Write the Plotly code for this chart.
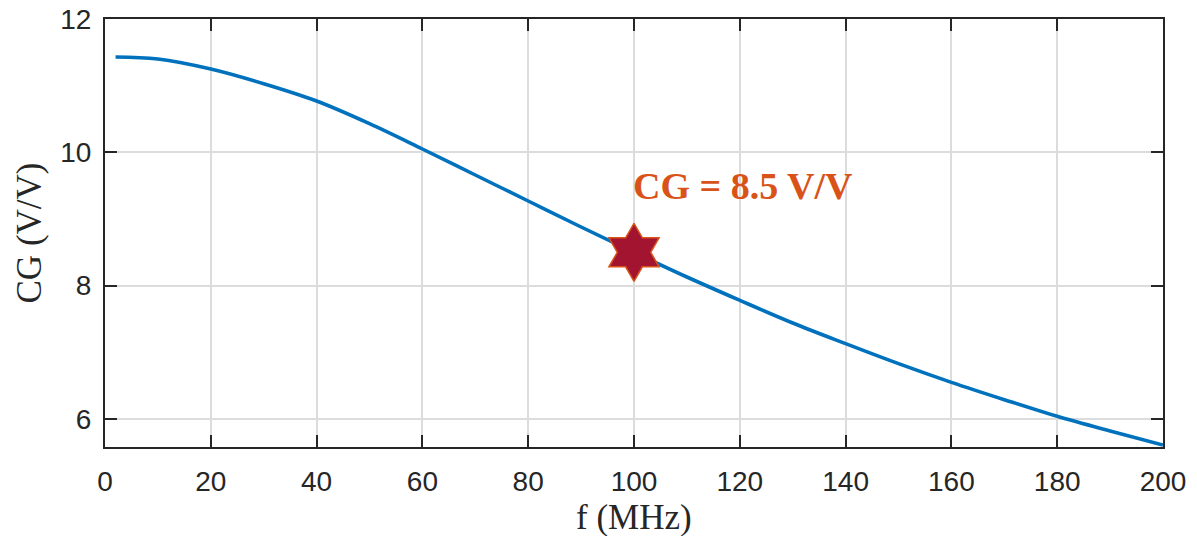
import plotly.graph_objects as go

# Data
f_mhz = [2, 10, 20, 30, 40, 50, 60, 70, 80, 90, 100, 110, 120, 130, 140, 150, 160, 170, 180, 190, 200]
cg_vv = [11.43, 11.40, 11.25, 11.03, 10.77, 10.43, 10.05, 9.66, 9.27, 8.88, 8.50, 8.13, 7.78, 7.44, 7.13, 6.83, 6.55, 6.29, 6.04, 5.82, 5.61]

marker_f = [100]
marker_cg = [8.5]
annot_text = "CG = 8.5 V/V"
x_title = "f (MHz)"
y_title = "CG (V/V)"

x_ticks = list(range(0, 201, 20))
y_ticks = [6, 8, 10, 12]

fig = go.Figure()
fig.add_trace(go.Scatter(x=f_mhz, y=cg_vv, mode="lines",
                         line=dict(color="#0072BD", width=3.6, shape="spline", smoothing=1.0),
                         showlegend=False, hoverinfo="skip"))
fig.add_trace(go.Scatter(x=marker_f, y=marker_cg, mode="markers",
                         marker=dict(symbol="hexagram", size=44, color="#A2142F",
                                     line=dict(color="#D95319", width=1.5)),
                         showlegend=False))
fig.add_annotation(x=marker_f[0], y=9.49, text="<b>" + annot_text + "</b>", showarrow=False,
                   xanchor="left", yanchor="middle", xshift=-3,
                   font=dict(family="Liberation Serif, Times New Roman, serif", size=38, color="#D95319"))
# x-axis title placed below the tick labels
fig.add_annotation(x=0.5, y=0, xref="paper", yref="paper", text=x_title, showarrow=False,
                   xanchor="center", yanchor="middle", yshift=-70,
                   font=dict(family="Liberation Serif, Times New Roman, serif", size=35, color="#262626"))

axis_common = dict(showline=True, linecolor="#262626", linewidth=2, mirror="allticks",
                   ticks="inside", ticklen=12, tickwidth=2, tickcolor="#262626",
                   showgrid=True, gridcolor="#dcdcdc", gridwidth=1.5, zeroline=False,
                   automargin=False, ticklabeloverflow="allow",
                   tickfont=dict(family="Liberation Sans, Arial, sans-serif", size=28, color="#262626"))

fig.update_xaxes(range=[0, 200], tickvals=x_ticks, ticklabelstandoff=8, **axis_common)
fig.update_yaxes(range=[5.58, 12], tickvals=y_ticks,
                 title=dict(text=y_title, standoff=8,
                            font=dict(family="Liberation Serif, Times New Roman, serif", size=35, color="#262626")),
                 ticklabelstandoff=6, **axis_common)

# page body has an 8px margin, so the figure is sized to fit inside the window
fig.update_layout(width=1181, height=528, margin=dict(l=97, r=26, t=11, b=89, autoexpand=False),
                  plot_bgcolor="white", paper_bgcolor="white")

fig.write_html("out.html")
